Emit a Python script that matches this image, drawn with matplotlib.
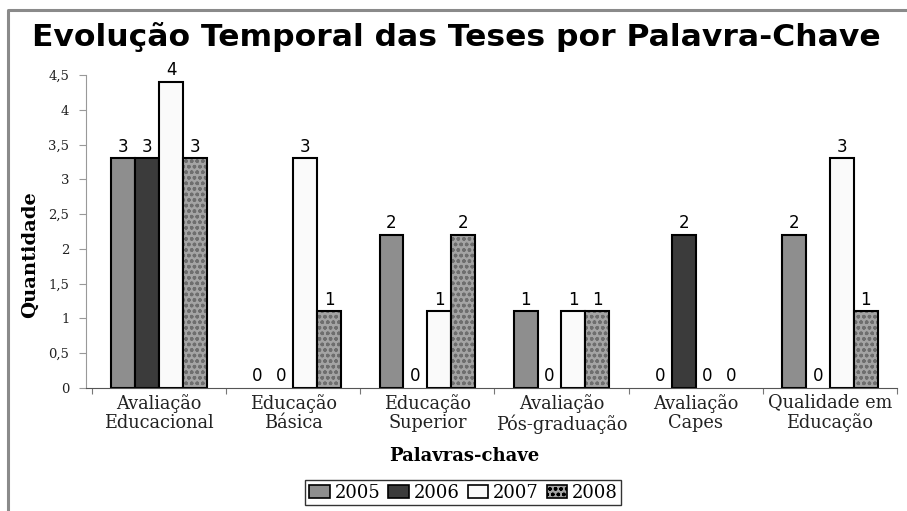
import matplotlib
matplotlib.use("Agg")
import matplotlib.pyplot as plt
import matplotlib.patches
import matplotlib.lines
import numpy as np

categories = [
    "Avaliação\nEducacional",
    "Educação\nBásica",
    "Educação\nSuperior",
    "Avaliação\nPós-graduação",
    "Avaliação\nCapes",
    "Qualidade em\nEducação",
]
years = ["2005", "2006", "2007", "2008"]

# counts written above the bars
counts = {
    "2005": [3, 0, 2, 1, 0, 2],
    "2006": [3, 0, 0, 0, 2, 0],
    "2007": [4, 3, 1, 1, 0, 3],
    "2008": [3, 1, 2, 1, 0, 1],
}
# bar heights as read on the axis (the original draws them 10% taller)
heights = {
    "2005": [3.3, 0, 2.2, 1.1, 0, 2.2],
    "2006": [3.3, 0, 0, 0, 2.2, 0],
    "2007": [4.4, 3.3, 1.1, 1.1, 0, 3.3],
    "2008": [3.3, 1.1, 2.2, 1.1, 0, 1.1],
}
yticks = [0, 0.5, 1, 1.5, 2, 2.5, 3, 3.5, 4, 4.5]

styles = {
    "2005": dict(color="#8e8e8e", hatch=None),
    "2006": dict(color="#3b3b3b", hatch=None),
    "2007": dict(color="#fafafa", hatch=None),
    "2008": dict(color="#a4a4a4", hatch="ooo"),
}

serif = "DejaVu Serif"
sans = "DejaVu Sans"

fig = plt.figure(figsize=(9.07, 5.11), dpi=100)
# frame of the original picture (only top and left edges visible)
fig.lines.append(matplotlib.lines.Line2D(
    [8 / 907, 8 / 907, 1.0], [0.0, 1 - 10 / 511, 1 - 10 / 511],
    transform=fig.transFigure, color="#8a8a8a", linewidth=2.2))

ax = fig.add_axes([0.0948, 0.2407, 0.894, 0.6125])

x = np.arange(len(categories))
w = 0.178
for i, yr in enumerate(years):
    pos = x + (i - 1.5) * w
    st = styles[yr]
    if st["hatch"]:
        bars = ax.bar(pos, heights[yr], w, color=st["color"], hatch=st["hatch"],
                      edgecolor="#6e6e6e", linewidth=0)
        outline = ax.bar(pos, heights[yr], w, fill=False, edgecolor="black",
                         linewidth=1.5)
    else:
        bars = outline = ax.bar(pos, heights[yr], w, color=st["color"],
                                edgecolor="black", linewidth=1.5)
    # empty bars leave no mark on the axis
    for b in list(bars) + list(outline):
        if b.get_height() == 0:
            b.set_visible(False)
    for px, h, c in zip(pos, heights[yr], counts[yr]):
        ax.annotate(str(c), (px, h), xytext=(0, 2), textcoords="offset points",
                    ha="center", va="bottom", fontsize=12, family=sans)

ax.set_xlim(-0.545, len(categories) - 0.5)
ax.set_ylim(0, 4.5)
ax.set_yticks(yticks)
ax.set_yticklabels([f"{t:g}".replace(".", ",") for t in yticks],
                   family=serif, fontsize=9.5)
ax.set_xticks(np.arange(len(categories) + 1) - 0.5)
ax.set_xticklabels([])
ax.set_xticks(x, minor=True)
ax.set_xticklabels(categories, minor=True, family=serif, fontsize=12.8,
                   linespacing=1.12, color="#222222")
ax.tick_params(axis="x", which="minor", length=0, pad=4)
ax.tick_params(axis="x", which="major", length=4, color="#777777")
ax.tick_params(axis="y", length=5, color="#999999", pad=7, labelcolor="#222222")

for s in ["top", "right"]:
    ax.spines[s].set_visible(False)
ax.spines["left"].set_color("#999999")
ax.spines["bottom"].set_color("#555555")

ax.set_ylabel("Quantidade", family=serif, fontsize=14, fontweight="bold")
ax.yaxis.set_label_coords(-0.058, 0.425)
ax.set_xlabel("Palavras-chave", family=serif, fontsize=13, fontweight="bold")
ax.xaxis.set_label_coords(0.467, -0.19)

fig.text(0.503, 1 - 46 / 511, "Evolução Temporal das Teses por Palavra-Chave",
         family=sans, fontsize=22.6, fontweight="bold", ha="center",
         va="baseline")

handles = []
for yr in years:
    st = styles[yr]
    handles.append(matplotlib.patches.Patch(
        facecolor=st["color"], edgecolor="black", hatch=st["hatch"],
        linewidth=1.2))
leg = fig.legend(handles, years, loc="center", bbox_to_anchor=(0.511, 0.036),
                 ncol=4, frameon=True, fancybox=False, edgecolor="black",
                 prop=dict(family=serif, size=13), handlelength=1.15,
                 handleheight=0.75, handletextpad=0.25, columnspacing=0.45,
                 borderpad=0.2, borderaxespad=0)
leg.get_frame().set_linewidth(1.0)

fig.savefig("out.png", dpi=100)
